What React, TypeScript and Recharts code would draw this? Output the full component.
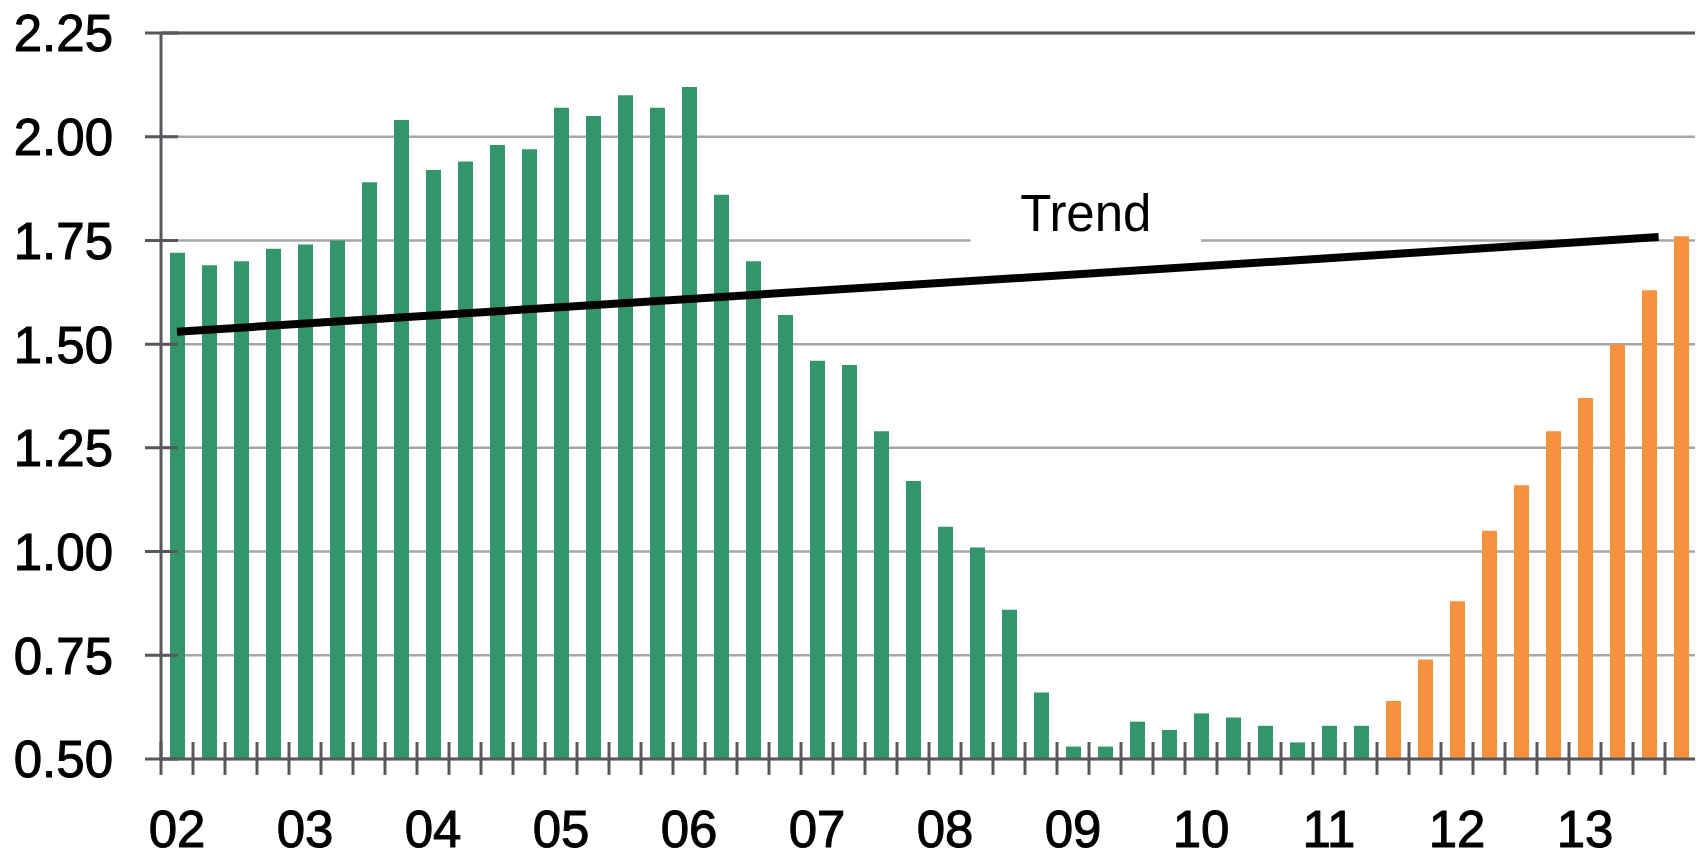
import React from 'react';
import {
  ComposedChart,
  Bar,
  Line,
  XAxis,
  YAxis,
  CartesianGrid,
  ReferenceLine,
  ReferenceArea,
  Cell,
} from 'recharts';

// Quarterly values, 2002 Q1 .. 2011 Q2 (actual, green)
const actualValues = [
  1.72, 1.69, 1.70, 1.73, 1.74, 1.75, 1.89, 2.04, 1.92, 1.94, 1.98, 1.97,
  2.07, 2.05, 2.10, 2.07, 2.12, 1.86, 1.70, 1.57, 1.46, 1.45, 1.29, 1.17,
  1.06, 1.01, 0.86, 0.66, 0.53, 0.53, 0.59, 0.57, 0.61, 0.60, 0.58, 0.54,
  0.58, 0.58,
];
// 2011 Q3 .. 2013 Q4 (forecast, orange)
const forecastValues = [0.64, 0.74, 0.88, 1.05, 1.16, 1.29, 1.37, 1.50, 1.63, 1.76];

const yearLabels = ['02', '03', '04', '05', '06', '07', '08', '09', '10', '11', '12', '13'];
const yTicks = [0.5, 0.75, 1.0, 1.25, 1.5, 1.75, 2.0, 2.25];

// Trend line endpoints (position in quarters from the start, value)
const trendPoints = [
  { x: 0.5, y: 1.53 },
  { x: 46.8, y: 1.758 },
];
const trendLabel = 'Trend';
// Trend label box, in quarter/value units
const trendBox = { x1: 25.3, x2: 32.5, y1: 1.711, y2: 1.922 };

const allValues = [...actualValues, ...forecastValues];
const data = allValues.map((v, i) => ({
  q: `${yearLabels[Math.floor(i / 4)]}Q${(i % 4) + 1}`,
  v,
  forecast: i >= actualValues.length,
}));
const yearTicks = yearLabels.map((_, k) => k * 4 + 0.5);

const GREEN = '#33956A';
const ORANGE = '#F69140';
const AXIS = '#55595E';
const GRID = '#A3A7AB';
const FONT = '"Liberation Sans", Arial, sans-serif';

const YTick = (props: any) => {
  const { x, y, payload } = props;
  return (
    <g>
      <line x1={x - 16} x2={x + 17} y1={y} y2={y} stroke={AXIS} strokeWidth={3} />
      <text
        x={x - 48}
        y={y}
        dy="0.36em"
        textAnchor="end"
        fontSize={51}
        fontFamily={FONT}
        fill="#000"
        stroke="#000"
        strokeWidth={1}
      >
        {Number(payload.value).toFixed(2)}
      </text>
    </g>
  );
};

const XQuarterTick = (props: any) => {
  const { x, y, payload, index, visibleTicksCount } = props;
  const half = payload && typeof payload.offset === 'number' && payload.offset > 0 ? payload.offset : 16;
  const isLast = index === (visibleTicksCount ?? data.length) - 1;
  return (
    <g>
      <line x1={x - half} x2={x - half} y1={y - 17} y2={y + 16} stroke={AXIS} strokeWidth={3} />
      {isLast && (
        <line x1={x + half} x2={x + half} y1={y - 17} y2={y + 16} stroke={AXIS} strokeWidth={3} />
      )}
    </g>
  );
};

const YearTick = (props: any) => {
  const { x, y, payload } = props;
  const label = yearLabels[Math.round((payload.value - 0.5) / 4)];
  return (
    <text
      x={x}
      y={y}
      dy="0.71em"
      textAnchor="middle"
      fontSize={51}
      fontFamily={FONT}
      fill="#000"
      stroke="#000"
      strokeWidth={1}
    >
      {label}
    </text>
  );
};

export default function App() {
  return (
    <ComposedChart
      width={1695}
      height={850}
      data={data}
      margin={{ top: 25, right: 6, left: 0, bottom: 0 }}
      style={{ overflow: 'visible' }}
    >
      <CartesianGrid vertical={false} stroke={GRID} strokeWidth={2.5} />
      <XAxis
        dataKey="q"
        type="category"
        interval={0}
        height={17}
        tickSize={0}
        tickMargin={0}
        tickLine={false}
        axisLine={{ stroke: AXIS, strokeWidth: 3 }}
        tick={<XQuarterTick />}
      />
      <XAxis
        xAxisId="num"
        dataKey="x"
        type="number"
        domain={[0, 48]}
        ticks={yearTicks}
        interval={0}
        allowDataOverflow
        height={82}
        tickSize={0}
        tickMargin={35}
        tickLine={false}
        axisLine={false}
        tick={<YearTick />}
      />
      <YAxis
        type="number"
        domain={[0.5, 2.25]}
        ticks={yTicks}
        interval={0}
        allowDataOverflow
        width={153}
        tickSize={0}
        tickMargin={0}
        tickLine={false}
        axisLine={{ stroke: AXIS, strokeWidth: 3 }}
        tick={<YTick />}
      />
      <ReferenceArea
        xAxisId="num"
        x1={trendBox.x1}
        x2={trendBox.x2}
        y1={trendBox.y1}
        y2={trendBox.y2}
        fill="#FFFFFF"
        fillOpacity={1}
        stroke="none"
        ifOverflow="visible"
        label={{
          value: trendLabel,
          position: 'center',
          fontSize: 51,
          fontFamily: FONT,
          fill: '#000',
        }}
      />
      <ReferenceLine y={2.25} stroke={AXIS} strokeWidth={3} />
      <ReferenceLine xAxisId="num" x={48} stroke="#8E9297" strokeWidth={3} />
      <Bar dataKey="v" barSize={15} isAnimationActive={false}>
        {data.map((d, i) => (
          <Cell key={i} fill={d.forecast ? ORANGE : GREEN} />
        ))}
      </Bar>
      <Line
        xAxisId="num"
        data={trendPoints}
        dataKey="y"
        stroke="#000"
        strokeWidth={8}
        dot={false}
        activeDot={false}
        isAnimationActive={false}
        legendType="none"
      />
    </ComposedChart>
  );
}
